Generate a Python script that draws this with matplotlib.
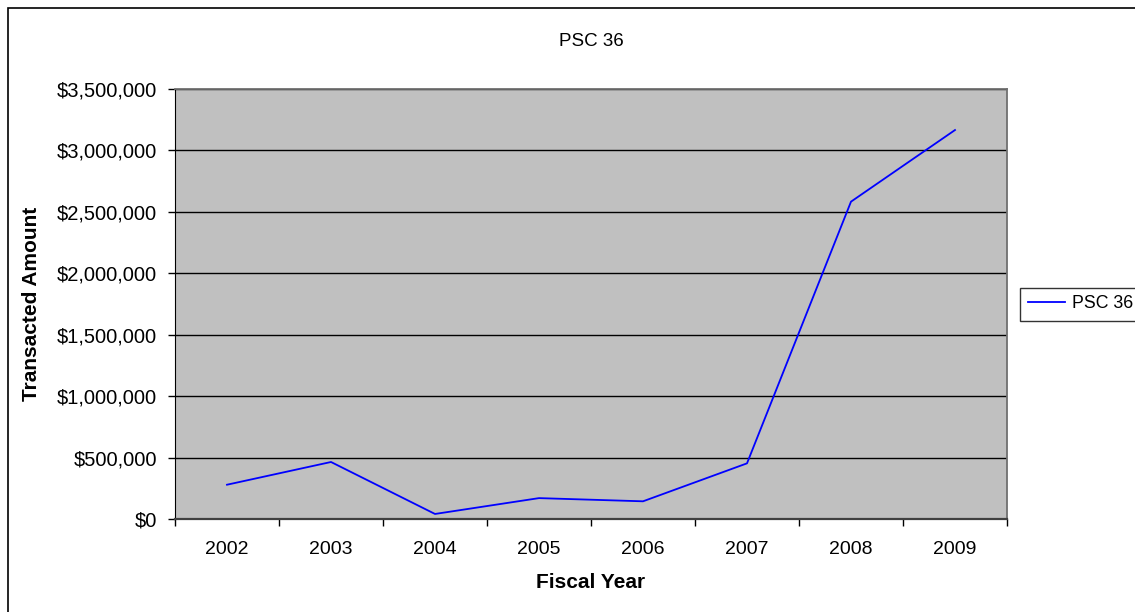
import matplotlib.pyplot as plt
from matplotlib.patches import Rectangle
from matplotlib.ticker import FuncFormatter, FixedLocator

plt.rcParams['font.family'] = ['Liberation Sans', 'DejaVu Sans']

years = ['2002', '2003', '2004', '2005', '2006', '2007', '2008', '2009']
amounts = [279000, 464000, 41000, 170000, 144000, 453000, 2583000, 3166000]
series_name = 'PSC 36'

W, H = 1135, 612
fig = plt.figure(figsize=(W / 100, H / 100), dpi=100)

# outer chart border (right and bottom run off the image)
fig.patches.append(Rectangle((7.5 / W, -0.1), 2, 1 - 7.5 / H + 0.1,
                             transform=fig.transFigure, fill=False,
                             edgecolor='black', linewidth=1.2))

ax = fig.add_axes([175 / W, 1 - 519 / H, 832 / W, 430 / H])
ax.set_facecolor('#C0C0C0')

x = list(range(len(years)))
ax.plot(x, amounts, color='#0000FF', linewidth=1.3, label=series_name)

ax.set_xlim(-0.5, len(years) - 0.5)
ax.set_ylim(0, 3500000)
ax.set_yticks(range(0, 3500001, 500000))
ax.yaxis.set_major_formatter(FuncFormatter(lambda v, p: '${:,.0f}'.format(v)))
ax.grid(axis='y', color='black', linewidth=1)
ax.set_axisbelow(True)

ax.set_xticks(x)
ax.set_xticklabels(years)
ax.xaxis.set_minor_locator(FixedLocator([i - 0.5 for i in range(len(years) + 1)]))
ax.tick_params(axis='x', which='major', length=0, pad=16, labelsize=14)
ax.tick_params(axis='x', which='minor', length=5, width=1, direction='out')
ax.tick_params(axis='y', length=5, width=1, pad=8, labelsize=14.5)

for s in ['top', 'right']:
    ax.spines[s].set_color('#707070')
    ax.spines[s].set_linewidth(1.3)
ax.spines['left'].set_color('black')
ax.spines['bottom'].set_color('#404040')
ax.spines['bottom'].set_linewidth(1.6)

fig.text(591 / W, 1 - 42 / H, 'PSC 36', ha='center', va='center', fontsize=13.5)
fig.text(591 / W, 1 - 583 / H, 'Fiscal Year', ha='center', va='center',
         fontsize=15, fontweight='bold')
fig.text(32 / W, 1 - 304 / H, 'Transacted Amount', ha='center', va='center',
         rotation=90, fontsize=15, fontweight='bold')

leg = fig.legend(loc='center left', bbox_to_anchor=(1020 / W, 1 - 304 / H),
                 frameon=True, fancybox=False, edgecolor='black', fontsize=12.8,
                 handlelength=2.1, handletextpad=0.35, borderpad=0.45,
                 borderaxespad=0)
leg.get_frame().set_linewidth(1)

fig.savefig('out.png', dpi=100)
